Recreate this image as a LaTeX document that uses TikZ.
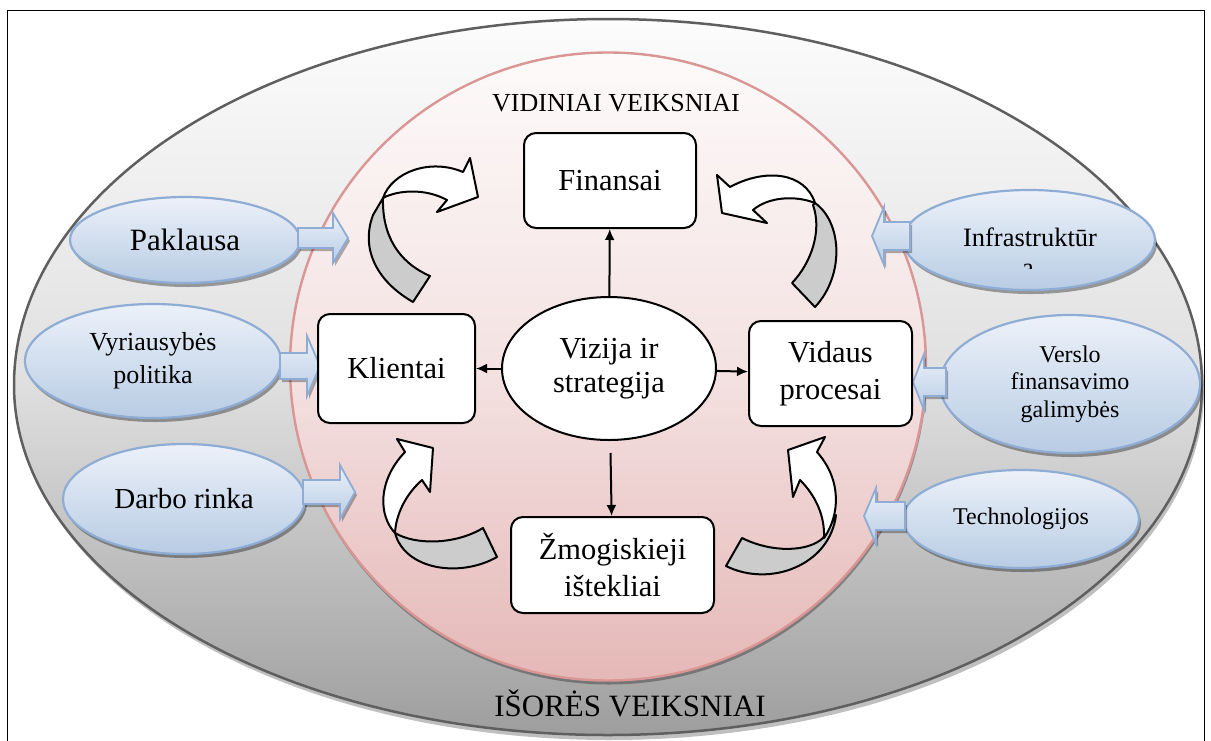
\documentclass[tikz,border=0pt]{standalone}
\usepackage{fontspec}
\setmainfont{Liberation Serif}
\usetikzlibrary{shapes.geometric,arrows.meta,shadows}
\definecolor{blueborder}{RGB}{142,172,212}
\definecolor{bluetop}{RGB}{236,241,249}
\definecolor{bluebot}{RGB}{184,204,228}
\definecolor{pinkborder}{RGB}{217,150,148}
\definecolor{pinktop}{RGB}{253,250,250}
\definecolor{pinkmid}{RGB}{244,226,226}
\definecolor{pinkbot}{RGB}{229,184,183}
\definecolor{greytop}{RGB}{252,252,252}
\definecolor{greymid}{RGB}{224,224,224}
\definecolor{greybot}{RGB}{158,158,158}
\definecolor{outerborder}{RGB}{95,95,95}
\definecolor{ribbon}{RGB}{204,204,204}
\begin{document}
\begin{tikzpicture}[x=1pt,y=-1pt,
  fnt/.style={font=\fontsize{30.5}{37}\selectfont},
  box/.style={draw, line width=2pt, fill=white, rounded corners=12pt, align=center, fnt},
  factor/.style={ellipse, draw=blueborder, line width=2.2pt, top color=bluetop, bottom color=bluebot, align=center, inner sep=0pt,
     drop shadow={shadow xshift=2pt, shadow yshift=-4pt, fill=black, opacity=.35}},
  blockarr/.style={draw=blueborder, line width=1.8pt, top color=bluetop, bottom color=bluebot, line join=miter,
     drop shadow={shadow xshift=2pt, shadow yshift=-3pt, fill=black, opacity=.3}},
  ribbonback/.style={draw, line width=2pt, fill=ribbon, line join=round},
  ribbonfront/.style={draw, line width=2pt, fill=white, line join=round},
  link/.style={line width=2pt, -{Latex[length=11pt,width=10pt]}}
]
\useasboundingbox (0,0) rectangle (1211,740);
\clip (0,0) rectangle (1211,740);
\fill[white] (0,0) rectangle (1211,740);
\draw[line width=1.8pt] (7.5,10.5) rectangle (1204.5,760);

% outer ellipse
\path[draw=outerborder, line width=2.5pt, top color=greytop, bottom color=greybot, middle color=greymid,
  drop shadow={shadow xshift=2pt, shadow yshift=-5pt, fill=black, opacity=.25}]
  (14,385) arc[start angle=180, end angle=0, x radius=594pt, y radius=366pt]
  arc[start angle=0, end angle=-180, x radius=594pt, y radius=350pt] -- cycle;

% pink circle
\path[draw=pinkborder, line width=2.4pt, top color=pinktop, bottom color=pinkbot, middle color=pinkmid,
  drop shadow={shadow xshift=1pt, shadow yshift=-4pt, fill=black, opacity=.3}]
  (608,366.5) ellipse [x radius=318pt, y radius=314pt];

\node[font=\fontsize{26}{30}\selectfont] (vidin) at (616,103) {VIDINIAI VEIKSNIAI};
\node[font=\fontsize{31}{36}\selectfont] (isor) at (630,703) {IŠORĖS VEIKSNIAI};

% external factors
\node[factor, minimum width=230pt, minimum height=86pt, font=\fontsize{31}{36}\selectfont] (pak) at (185,240) {Paklausa};
\node[factor, minimum width=256pt, minimum height=114pt, font=\fontsize{26}{33}\selectfont] (vyr) at (153,361) {Vyriausybės\\politika};
\node[factor, minimum width=242pt, minimum height=110pt, font=\fontsize{29}{34}\selectfont] (dar) at (184,499) {Darbo rinka};
\node[factor, minimum width=252pt, minimum height=100pt] (inf) at (1029,240) {};
\node[font=\fontsize{26.5}{30}\selectfont] (inft) at (1030,237) {Infrastruktūr};
\begin{scope}
\clip (990,262) rectangle (1070,268);
\node[font=\fontsize{26.5}{30}\selectfont, anchor=base] (infa) at (1028,276) {a};
\end{scope}
\node[factor, minimum width=260pt, minimum height=138pt, font=\fontsize{24}{27.5}\selectfont] (ver) at (1070,384) {Verslo\\finansavimo\\galimybės};
\node[factor, minimum width=236pt, minimum height=98pt, font=\fontsize{24}{28}\selectfont] (tec) at (1021,519) {Technologijos};

% block arrows
\path[blockarr] (298,228) -- (333,228) -- (333,213) -- (348,238) -- (333,263) -- (333,248) -- (298,248) -- cycle;
\path[blockarr] (280,353) -- (307,353) -- (307,336) -- (320,366) -- (307,396) -- (307,379) -- (280,379) -- cycle;
\path[blockarr] (303,480) -- (340,480) -- (340,465) -- (355,492) -- (340,519) -- (340,504) -- (303,504) -- cycle;
\path[blockarr] (910,222) -- (884,222) -- (884,207) -- (872,236) -- (884,265) -- (884,250) -- (910,250) -- cycle;
\path[blockarr] (946,368) -- (924,368) -- (924,354) -- (913,382) -- (924,410) -- (924,396) -- (946,396) -- cycle;
\path[blockarr] (905,502) -- (876,502) -- (876,488) -- (864,516) -- (876,544) -- (876,530) -- (905,530) -- cycle;

% curved ribbon arrows
% top-left
\path[ribbonback] (383,198) .. controls (382,235) and (398,262) .. (430,276) -- (413,302)
  .. controls (378,282) and (360,250) .. (373,215) -- cycle;
\path[ribbonfront] (383,198) .. controls (392,172) and (430,158) .. (463,172) -- (470,158) -- (478,197)
  -- (437,212) -- (447,200) .. controls (425,188) and (398,190) .. (383,198) -- cycle;
% top-right
\path[ribbonback] (815,203) .. controls (842,222) and (845,275) .. (815,307) -- (792,283)
  .. controls (812,262) and (822,230) .. (813,205) -- cycle;
\path[ribbonfront] (717,175) -- (730,187) .. controls (765,168) and (805,172) .. (815,203)
  .. controls (795,195) and (768,197) .. (753,210) -- (767,223) -- (722,213) -- cycle;
% bottom-left
\path[ribbonback] (395,533) .. controls (405,570) and (460,578) .. (497,557) -- (483,528)
  .. controls (455,545) and (415,545) .. (395,533) -- cycle;
\path[ribbonfront] (397,439) -- (433,448) -- (430,492) -- (422,480) .. controls (405,495) and (396,515) .. (395,533)
  .. controls (378,515) and (378,480) .. (405,452) -- cycle;
% bottom-right
\path[ribbonback] (742,538) .. controls (772,553) and (808,552) .. (823,538) -- (836,515)
  .. controls (830,565) and (770,588) .. (726,566) -- cycle;
\path[ribbonfront] (825,437) -- (788,450) -- (793,497) -- (800,480) .. controls (815,495) and (825,515) .. (824,538)
  .. controls (840,515) and (842,480) .. (817,452) -- cycle;

% internal boxes
\node[box, minimum width=172pt, minimum height=95pt] (fin) at (610,180.5) {Finansai};
\node[box, minimum width=157pt, minimum height=109pt] (kli) at (396.5,368.5) {Klientai};
\node[box, minimum width=163pt, minimum height=105pt] (vid) at (830.5,373.5) {Vidaus\\procesai};
\node[box, minimum width=203pt, minimum height=96pt] (zmo) at (612.5,565) {Žmogiskieji\\ištekliai};
\node[ellipse, draw, line width=2pt, fill=white, align=center, inner sep=0pt,
  minimum width=214pt, minimum height=143pt, font=\fontsize{30.5}{34}\selectfont] (viz) at (609,368.5) {Vizija ir\\strategija};

\draw[link] (viz) -- (fin);
\draw[link] (viz) -- (kli);
\draw[link] (viz) -- (vid);
\draw[link, shorten <=12pt] (viz) -- (zmo);
\end{tikzpicture}
\end{document}
